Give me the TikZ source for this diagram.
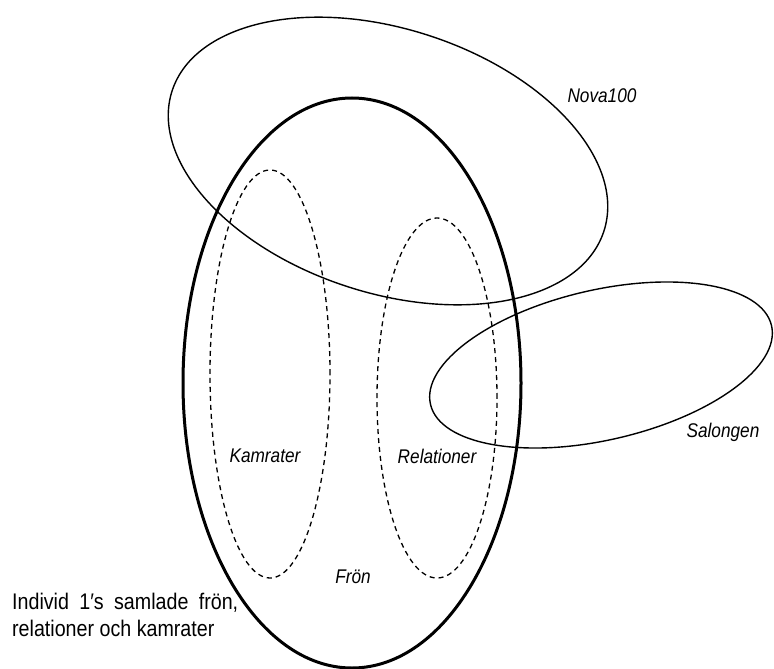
\documentclass[tikz,border=0pt]{standalone}
\usepackage{fontspec}
\setmainfont{Liberation Sans}[FakeStretch=0.87]
\begin{document}
\begin{tikzpicture}[x=1pt,y=1pt,
    setline/.style={line width=1.4pt},
    seedline/.style={line width=3pt},
    subline/.style={line width=1.3pt,dash pattern=on 5pt off 4pt},
    setlabel/.style={font=\fontsize{19.8}{22}\selectfont\itshape,inner sep=0pt}]
  \useasboundingbox (0,0) rectangle (774,-669);
  % individ 1
  \draw[seedline] (352,-383) ellipse [x radius=169,y radius=285];
  % delmangder
  \draw[subline] (270,-374) ellipse [x radius=60,y radius=204];
  \draw[subline] (437,-398) ellipse [x radius=60,y radius=180];
  % grupper
  \draw[setline,rotate around={-18:(388,-161)}] (388,-161) ellipse [x radius=227,y radius=132];
  \draw[setline,rotate around={13:(601,-365)}] (601,-365) ellipse [x radius=175,y radius=75];
  \node[setlabel] (nova) at (602,-96) {Nova100};
  \node[setlabel] (salong) at (723,-432) {Salongen};
  \node[setlabel] (kamrat) at (265,-456) {Kamrater};
  \node[setlabel] (relation) at (437,-456) {Relationer};
  \node[setlabel] (fron) at (353,-577) {Frön};
  \node[anchor=north west,inner sep=0pt,align=left,font=\fontsize{22.6}{27}\selectfont] (individ) at (12,-592.5)
    {\makebox[226pt][s]{Individ 1′s samlade frön,}\\relationer och kamrater};
\end{tikzpicture}
\end{document}
